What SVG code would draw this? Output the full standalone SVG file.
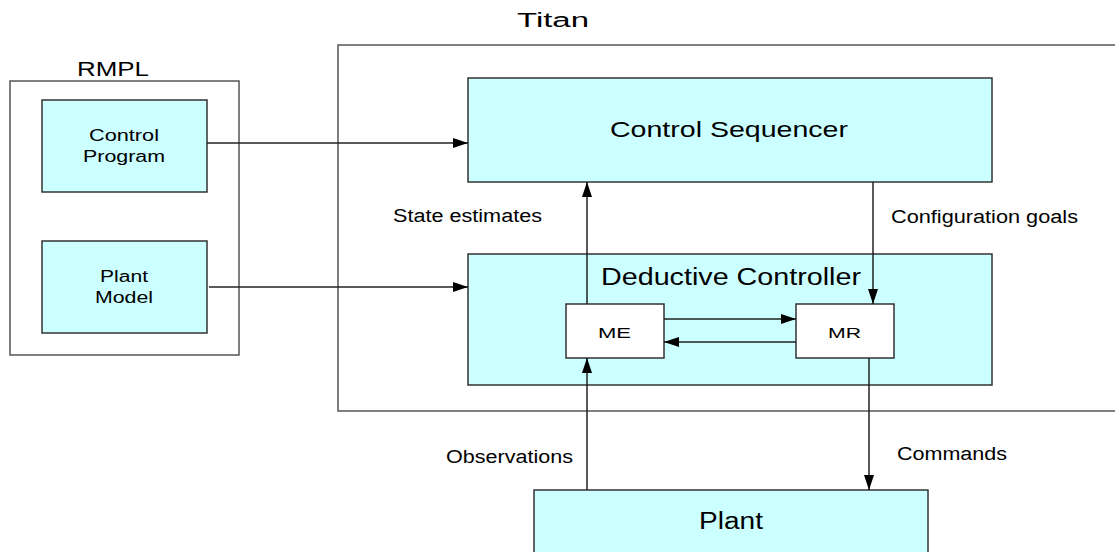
<svg xmlns="http://www.w3.org/2000/svg" width="1115" height="552" viewBox="0 0 1115 552">
<style>
  .frame{fill:#ffffff;stroke:#555555;stroke-width:1.5}
  .box{fill:#ccffff;stroke:#333333;stroke-width:1.5}
  .wbox{fill:#ffffff;stroke:#333333;stroke-width:1.5}
  .t{font-family:"Liberation Sans",Arial,sans-serif;fill:#000000}
  .con{stroke:#222222;stroke-width:1.5;fill:none}
</style>
<defs>
  <marker id="ah" markerUnits="userSpaceOnUse" markerWidth="15" markerHeight="10" refX="15" refY="5" orient="auto">
    <path d="M0,0 L15,5 L0,10 z" fill="#000000"/>
  </marker>
</defs>
<rect width="1115" height="552" fill="#ffffff"/>

<g id="rmpl">
  <rect class="frame" x="10" y="81" width="229" height="274"/>
  <text class="t" x="77" y="76" font-size="20" textLength="72" lengthAdjust="spacingAndGlyphs">RMPL</text>
</g>
<g id="titan">
  <rect class="frame" x="338" y="45" width="800" height="366"/>
  <text class="t" x="517" y="27" font-size="20" textLength="72" lengthAdjust="spacingAndGlyphs">Titan</text>
</g>

<g id="control-program">
  <rect class="box" x="42" y="100" width="165" height="92"/>
  <text class="t" x="89" y="141" font-size="16" textLength="70" lengthAdjust="spacingAndGlyphs">Control</text>
  <text class="t" x="83" y="162" font-size="16" textLength="82" lengthAdjust="spacingAndGlyphs">Program</text>
</g>
<g id="plant-model">
  <rect class="box" x="42" y="241" width="165" height="92"/>
  <text class="t" x="100" y="282" font-size="16" textLength="48" lengthAdjust="spacingAndGlyphs">Plant</text>
  <text class="t" x="95" y="303" font-size="16" textLength="58" lengthAdjust="spacingAndGlyphs">Model</text>
</g>
<g id="control-sequencer">
  <rect class="box" x="468" y="78" width="524" height="104"/>
  <text class="t" x="610" y="137" font-size="22" textLength="238" lengthAdjust="spacingAndGlyphs">Control Sequencer</text>
</g>
<g id="deductive-controller">
  <rect class="box" x="468" y="254" width="524" height="131"/>
  <text class="t" x="601" y="285" font-size="23" textLength="260" lengthAdjust="spacingAndGlyphs">Deductive Controller</text>
</g>
<g id="me">
  <rect class="wbox" x="566" y="304" width="98" height="54"/>
  <text class="t" x="598" y="338" font-size="14.5" textLength="33" lengthAdjust="spacingAndGlyphs">ME</text>
</g>
<g id="mr">
  <rect class="wbox" x="796" y="304" width="98" height="54"/>
  <text class="t" x="828" y="338" font-size="14.5" textLength="33" lengthAdjust="spacingAndGlyphs">MR</text>
</g>
<g id="plant">
  <rect class="box" x="534" y="490" width="394" height="80"/>
  <text class="t" x="699" y="529" font-size="23" textLength="64" lengthAdjust="spacingAndGlyphs">Plant</text>
</g>

<g id="connectors">
  <line class="con" x1="207" y1="143" x2="468" y2="143" marker-end="url(#ah)"/>
  <line class="con" x1="209" y1="287" x2="468" y2="287" marker-end="url(#ah)"/>
  <line class="con" x1="587" y1="304" x2="587" y2="182" marker-end="url(#ah)"/>
  <line class="con" x1="873" y1="182" x2="873" y2="304" marker-end="url(#ah)"/>
  <line class="con" x1="664" y1="319" x2="796" y2="319" marker-end="url(#ah)"/>
  <line class="con" x1="796" y1="342" x2="664" y2="342" marker-end="url(#ah)"/>
  <line class="con" x1="587" y1="490" x2="587" y2="358" marker-end="url(#ah)"/>
  <line class="con" x1="869" y1="358" x2="869" y2="490" marker-end="url(#ah)"/>
</g>

<g id="labels">
  <text class="t" x="393" y="222" font-size="18" textLength="149" lengthAdjust="spacingAndGlyphs">State estimates</text>
  <text class="t" x="891" y="222.5" font-size="18" textLength="187" lengthAdjust="spacingAndGlyphs">Configuration goals</text>
  <text class="t" x="446" y="463" font-size="18" textLength="127" lengthAdjust="spacingAndGlyphs">Observations</text>
  <text class="t" x="897" y="460" font-size="18" textLength="110" lengthAdjust="spacingAndGlyphs">Commands</text>
</g>
</svg>
